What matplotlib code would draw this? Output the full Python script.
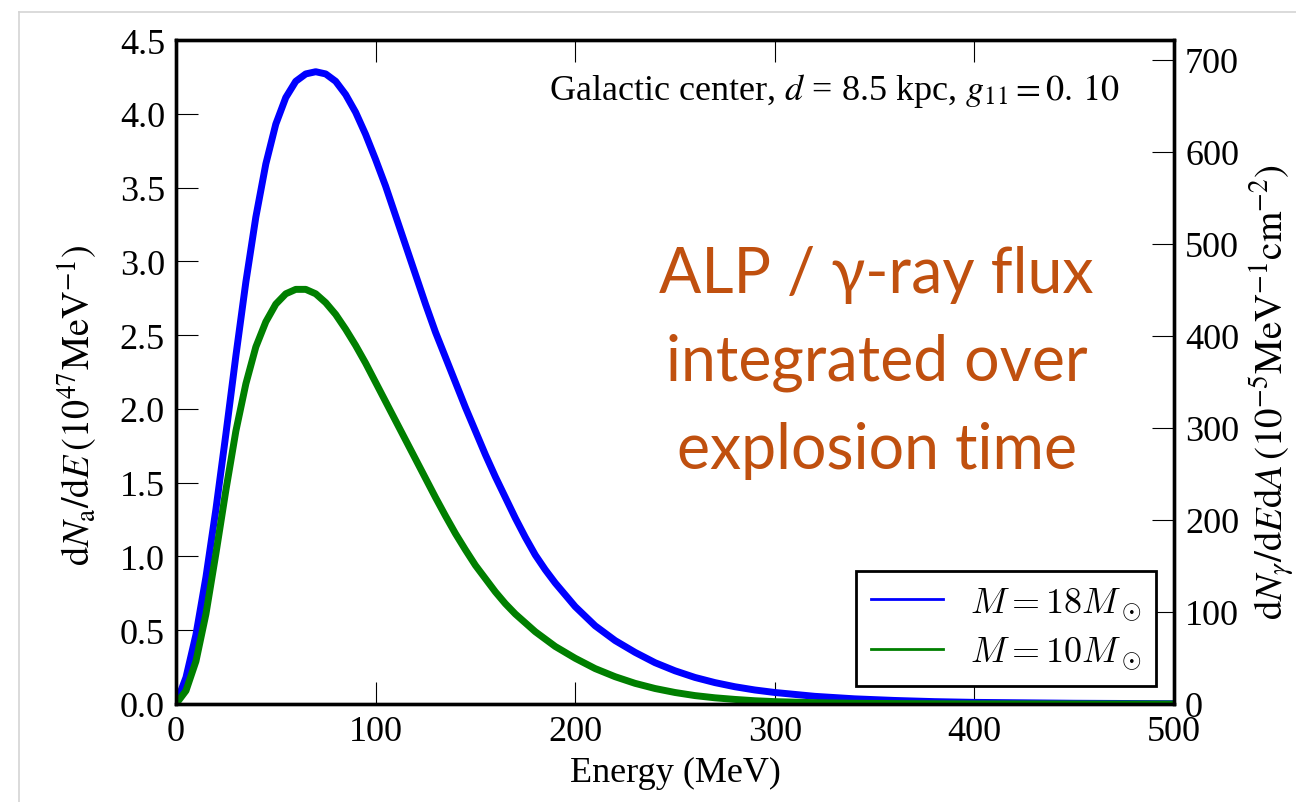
import matplotlib
matplotlib.use("Agg")
import matplotlib.pyplot as plt
from matplotlib.lines import Line2D
from matplotlib.font_manager import FontProperties

plt.rcParams['font.family'] = 'serif'
plt.rcParams['font.serif'] = ['Liberation Serif', 'DejaVu Serif']
plt.rcParams['mathtext.fontset'] = 'stix'

# ---- data (E in MeV, dN_a/dE in 1e47 MeV^-1) ----
energy = [0, 5, 10, 15, 20, 25, 30, 35, 40, 45, 50, 55, 60, 65, 70, 75, 80, 85,
          90, 95, 100, 105, 110, 115, 120, 125, 130, 135, 140, 145, 150, 155,
          160, 165, 170, 175, 180, 185, 190, 195, 200, 210, 220, 230, 240, 250,
          260, 270, 280, 290, 300, 320, 340, 360, 380, 400, 450, 500]

flux_18 = [0.0, 0.18, 0.47, 0.86, 1.32, 1.83, 2.36, 2.86, 3.30, 3.66, 3.93,
           4.11, 4.22, 4.27, 4.285, 4.27, 4.22, 4.13, 4.01, 3.86, 3.69, 3.51,
           3.31, 3.11, 2.91, 2.71, 2.52, 2.35, 2.18, 2.01, 1.85, 1.69, 1.54,
           1.40, 1.26, 1.13, 1.01, 0.91, 0.82, 0.74, 0.66, 0.53, 0.43, 0.35,
           0.28, 0.225, 0.18, 0.145, 0.117, 0.095, 0.078, 0.052, 0.035, 0.024,
           0.016, 0.011, 0.005, 0.002]

flux_10 = [0.0, 0.09, 0.29, 0.61, 1.02, 1.45, 1.85, 2.17, 2.42, 2.59, 2.71,
           2.78, 2.81, 2.81, 2.78, 2.72, 2.64, 2.54, 2.43, 2.31, 2.18, 2.05,
           1.92, 1.79, 1.66, 1.53, 1.40, 1.275, 1.155, 1.045, 0.94, 0.85, 0.76,
           0.68, 0.61, 0.55, 0.49, 0.44, 0.39, 0.35, 0.31, 0.24, 0.185, 0.14,
           0.105, 0.078, 0.057, 0.042, 0.031, 0.022, 0.016, 0.009, 0.005, 0.003,
           0.002, 0.001, 0.0003, 0.0]

labels = [r'$M = 18M_\odot$', r'$M = 10M_\odot$']
colors = ['#0000ff', '#007f00']

fig = plt.figure(figsize=(12.96, 8.03), dpi=100)
ax = fig.add_axes([176/1296, 1 - 705/803, 998/1296, 664/803])

ax.plot(energy, flux_18, color=colors[0], lw=5, solid_joinstyle='round')
ax.plot(energy, flux_10, color=colors[1], lw=5, solid_joinstyle='round')

ax.set_xlim(0, 500)
ax.set_ylim(0, 4.5)
ax.set_xticks([0, 100, 200, 300, 400, 500])
ax.set_yticks([0.0, 0.5, 1.0, 1.5, 2.0, 2.5, 3.0, 3.5, 4.0, 4.5])
ax.set_yticklabels(['%.1f' % v for v in ax.get_yticks()])
ax.tick_params(direction='in', length=16, width=0.8, labelsize=26, pad=8,
               top=True, right=False)

ax2 = ax.twinx()
ax2.set_ylim(0, 721.7)
ax2.set_yticks([0, 100, 200, 300, 400, 500, 600, 700])
ax2.tick_params(direction='in', length=16, width=0.8, labelsize=26, pad=8)

for a in (ax, ax2):
    for s in a.spines.values():
        s.set_linewidth(2.4)

ax.set_xlabel('Energy (MeV)', fontsize=26, labelpad=6)
ax.set_ylabel(r'$\mathrm{d}N_\mathrm{a}/\mathrm{d}E\,(10^{47}\mathrm{MeV}^{-1})$',
              fontsize=27.5)
ax.yaxis.set_label_coords(-0.076, 0.452)
ax2.set_ylabel(r'$\mathrm{d}N_\gamma/\mathrm{d}E\mathrm{d}A\,(10^{-5}\mathrm{MeV}^{-1}\mathrm{cm}^{-2})$',
               fontsize=28)
ax2.yaxis.set_label_coords(1.073, 0.471)

ax.text(0.946, 0.911, r'Galactic center, $d$ = 8.5 kpc, $g_{11} = 0.\,10$',
        transform=ax.transAxes, ha='right', va='baseline', fontsize=26)

ax.text(0.702, 0.515, 'ALP / γ-ray flux\nintegrated over\nexplosion time',
        transform=ax.transAxes, ha='center', va='center', multialignment='center',
        fontsize=45, color='#c0500f', family=['Lato', 'DejaVu Sans'],
        linespacing=1.64)

handles = [Line2D([], [], color=c, lw=2) for c in colors]
leg = ax2.legend(handles, labels, loc='lower right', fancybox=False,
                 framealpha=1, edgecolor='black', handlelength=2.0,
                 handletextpad=0.75, borderaxespad=0.5, labelspacing=0.35,
                 borderpad=0.4,
                 prop=FontProperties(size=26, math_fontfamily='cm'))
leg.get_frame().set_linewidth(2)

# light slide frame around the figure
fig.add_artist(Line2D([19/1296, 1], [1 - 13/803, 1 - 13/803], color='#d4d4d4', lw=1.2))
fig.add_artist(Line2D([19/1296, 19/1296], [0, 1 - 13/803], color='#d4d4d4', lw=1.2))

fig.savefig('out.png', dpi=100)
